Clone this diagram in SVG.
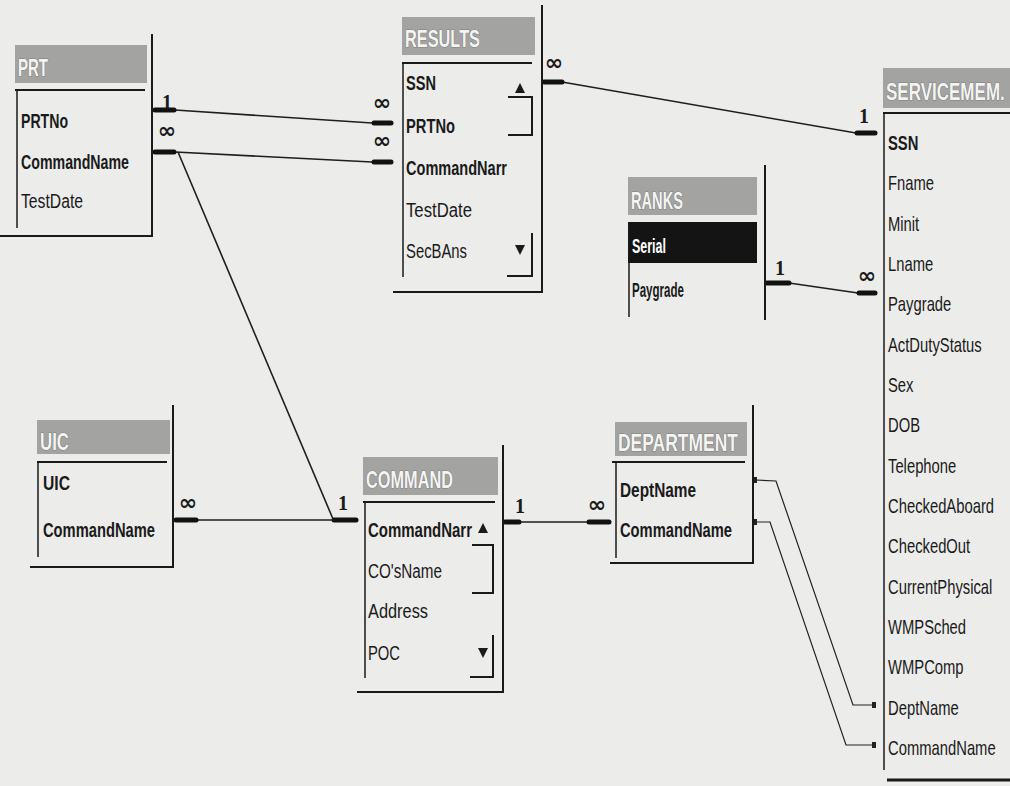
<svg xmlns="http://www.w3.org/2000/svg" width="1010" height="786" viewBox="0 0 1010 786">
<defs>
<style>
.bg{fill:#ececea}
.tb{fill:#a3a3a1}
.tt{font-family:"Liberation Sans","DejaVu Sans",sans-serif;font-weight:bold;font-size:23px;fill:#f4f4f2;stroke:#555;stroke-width:0.7;paint-order:stroke}
.ln{stroke:#1a1a1a;stroke-width:2;fill:none}
.lf{stroke:#1a1a1a;stroke-width:1.5;fill:none}
.f{font-family:"Liberation Sans","DejaVu Sans",sans-serif;font-size:20px;fill:#1a1a1a}
.b{font-weight:bold}
.w{fill:#ffffff}
.c{stroke:#1e1e1e;stroke-width:1.6;fill:none}
.st{stroke:#111;stroke-width:5;stroke-linecap:round}
.thin{stroke:#222;stroke-width:1.2;fill:none}
.one{font-family:"Liberation Serif",serif;font-weight:bold;font-size:20px;fill:#1a1a1a;text-anchor:middle}
.inf{font-family:"DejaVu Sans",sans-serif;font-weight:bold;font-size:22px;fill:#1a1a1a;text-anchor:middle}
.ar{fill:#1a1a1a}
</style>
</defs>
<rect class="bg" x="0" y="0" width="1010" height="786"/>

<g id="connectors">
  <polyline class="c" points="175,110 372,123"/>
  <line class="st" x1="155" y1="110" x2="174" y2="110"/>
  <line class="st" x1="374" y1="123" x2="391" y2="123"/>
  <polyline class="c" points="175,152 372,162"/>
  <line class="st" x1="155" y1="152" x2="174" y2="152"/>
  <line class="st" x1="374" y1="162" x2="391" y2="162"/>
  <polyline class="c" points="178,152 333,519"/>
  <line class="st" x1="334" y1="520" x2="356" y2="520"/>
  <polyline class="c" points="196,520 334,520"/>
  <line class="st" x1="176" y1="520" x2="196" y2="520"/>
  <polyline class="c" points="519,522 588,522"/>
  <line class="st" x1="505" y1="522" x2="519" y2="522"/>
  <line class="st" x1="589" y1="522" x2="609" y2="522"/>
  <polyline class="c" points="562,82 856,133"/>
  <line class="st" x1="544" y1="82" x2="562" y2="82"/>
  <line class="st" x1="857" y1="133" x2="875" y2="133"/>
  <polyline class="c" points="789,283 858,293"/>
  <line class="st" x1="767" y1="283" x2="789" y2="283"/>
  <line class="st" x1="859" y1="293" x2="875" y2="293"/>
  <polyline class="thin" points="755,480 776,481 853,705 875,705"/>
  <polyline class="thin" points="755,522 770,522 846,745 875,745"/>
  <rect x="754" y="477" width="3" height="6" fill="#222"/>
  <rect x="754" y="519" width="3" height="6" fill="#222"/>
  <rect x="872" y="702" width="4" height="6" fill="#222"/>
  <rect x="872" y="742" width="4" height="6" fill="#222"/>
  <text class="one" x="167" y="109">1</text>
  <text class="inf" x="167" y="138">∞</text>
  <text class="inf" x="382" y="110">∞</text>
  <text class="inf" x="382" y="148">∞</text>
  <text class="inf" x="554" y="70">∞</text>
  <text class="one" x="864" y="123">1</text>
  <text class="one" x="780" y="275">1</text>
  <text class="inf" x="867" y="283">∞</text>
  <text class="inf" x="188" y="510">∞</text>
  <text class="one" x="343" y="510">1</text>
  <text class="one" x="520" y="513">1</text>
  <text class="inf" x="597" y="512">∞</text>
</g>

<g id="PRT">
  <rect class="tb" x="15" y="45" width="132" height="38"/>
  <text class="tt" x="18" y="76" textLength="30" lengthAdjust="spacingAndGlyphs">PRT</text>
  <line class="ln" x1="15" y1="90" x2="145" y2="90"/>
  <line class="lf" x1="17" y1="90" x2="17" y2="228"/>
  <line class="ln" x1="152" y1="34" x2="152" y2="237"/>
  <line class="ln" x1="0" y1="236" x2="152" y2="236"/>
  <text class="f b" x="21" y="128" textLength="47" lengthAdjust="spacingAndGlyphs">PRTNo</text>
  <text class="f b" x="21" y="169" textLength="108" lengthAdjust="spacingAndGlyphs">CommandName</text>
  <text class="f" x="21" y="208" textLength="62" lengthAdjust="spacingAndGlyphs">TestDate</text>
</g>

<g id="RESULTS">
  <rect class="tb" x="402" y="17" width="133" height="38"/>
  <text class="tt" x="405" y="47" textLength="75" lengthAdjust="spacingAndGlyphs">RESULTS</text>
  <line class="ln" x1="402" y1="63" x2="532" y2="63"/>
  <line class="lf" x1="403" y1="63" x2="403" y2="277"/>
  <line class="ln" x1="542" y1="5" x2="542" y2="293"/>
  <line class="ln" x1="393" y1="292" x2="542" y2="292"/>
  <text class="f b" x="406" y="90" textLength="30" lengthAdjust="spacingAndGlyphs">SSN</text>
  <text class="f b" x="406" y="133" textLength="49" lengthAdjust="spacingAndGlyphs">PRTNo</text>
  <text class="f b" x="406" y="175" textLength="101" lengthAdjust="spacingAndGlyphs">CommandNarr</text>
  <text class="f" x="406" y="217" textLength="66" lengthAdjust="spacingAndGlyphs">TestDate</text>
  <text class="f" x="406" y="258" textLength="61" lengthAdjust="spacingAndGlyphs">SecBAns</text>
  <polygon class="ar" points="515,93 525,93 520,83"/>
  <polyline class="ln" points="508,97 532,97 532,135 508,135"/>
  <polygon class="ar" points="515,245 525,245 520,255"/>
  <polyline class="ln" points="532,233 532,276 507,276"/>
</g>

<g id="SERVICEMEM">
  <rect class="tb" x="883" y="68" width="127" height="40"/>
  <g transform="translate(886,0) scale(0.74,1)">
    <text class="tt" x="0" y="100">SERVICEMEM.</text>
  </g>
  <line class="ln" x1="883" y1="113" x2="1010" y2="113"/>
  <line class="lf" x1="884" y1="113" x2="884" y2="770"/>
  <line x1="887" y1="780" x2="1010" y2="780" stroke="#1a1a1a" stroke-width="3"/>
  <g transform="translate(888,0) scale(0.74,1)">
    <text class="f b" x="0" y="150">SSN</text>
    <text class="f" x="0" y="190">Fname</text>
    <text class="f" x="0" y="231">Minit</text>
    <text class="f" x="0" y="271">Lname</text>
    <text class="f" x="0" y="311">Paygrade</text>
    <text class="f" x="0" y="352">ActDutyStatus</text>
    <text class="f" x="0" y="392">Sex</text>
    <text class="f" x="0" y="432">DOB</text>
    <text class="f" x="0" y="473">Telephone</text>
    <text class="f" x="0" y="513">CheckedAboard</text>
    <text class="f" x="0" y="553">CheckedOut</text>
    <text class="f" x="0" y="594">CurrentPhysical</text>
    <text class="f" x="0" y="634">WMPSched</text>
    <text class="f" x="0" y="674">WMPComp</text>
    <text class="f" x="0" y="715">DeptName</text>
    <text class="f" x="0" y="755">CommandName</text>
  </g>
</g>

<g id="RANKS">
  <rect class="tb" x="628" y="177" width="129" height="38"/>
  <text class="tt" x="631" y="209" textLength="52" lengthAdjust="spacingAndGlyphs">RANKS</text>
  <rect x="628" y="222" width="129" height="41" fill="#141414"/>
  <line class="lf" x1="629" y1="222" x2="629" y2="317"/>
  <line class="ln" x1="765" y1="165" x2="765" y2="320"/>
  <text class="f b w" x="632" y="253" textLength="34" lengthAdjust="spacingAndGlyphs">Serial</text>
  <text class="f b" x="632" y="297" textLength="52" lengthAdjust="spacingAndGlyphs">Paygrade</text>
</g>

<g id="UIC">
  <rect class="tb" x="37" y="420" width="133" height="34"/>
  <text class="tt" x="40" y="450" textLength="29" lengthAdjust="spacingAndGlyphs">UIC</text>
  <line class="ln" x1="37" y1="462" x2="167" y2="462"/>
  <line class="lf" x1="38" y1="462" x2="38" y2="557"/>
  <line class="ln" x1="173" y1="405" x2="173" y2="568"/>
  <line class="ln" x1="30" y1="567" x2="173" y2="567"/>
  <text class="f b" x="43" y="490" textLength="27" lengthAdjust="spacingAndGlyphs">UIC</text>
  <text class="f b" x="43" y="537" textLength="112" lengthAdjust="spacingAndGlyphs">CommandName</text>
</g>

<g id="COMMAND">
  <rect class="tb" x="363" y="457" width="135" height="38"/>
  <text class="tt" x="366" y="488" textLength="87" lengthAdjust="spacingAndGlyphs">COMMAND</text>
  <line class="ln" x1="363" y1="502" x2="495" y2="502"/>
  <line class="lf" x1="365" y1="502" x2="365" y2="678"/>
  <line class="ln" x1="503" y1="445" x2="503" y2="693"/>
  <line class="ln" x1="357" y1="692" x2="503" y2="692"/>
  <text class="f b" x="368" y="537" textLength="104" lengthAdjust="spacingAndGlyphs">CommandNarr</text>
  <text class="f" x="368" y="578" textLength="74" lengthAdjust="spacingAndGlyphs">CO'sName</text>
  <text class="f" x="368" y="618" textLength="60" lengthAdjust="spacingAndGlyphs">Address</text>
  <text class="f" x="368" y="660" textLength="32" lengthAdjust="spacingAndGlyphs">POC</text>
  <polygon class="ar" points="478,533 488,533 483,523"/>
  <polyline class="ln" points="472,545 493,545 493,593 472,593"/>
  <polygon class="ar" points="478,648 488,648 483,658"/>
  <polyline class="ln" points="493,635 493,677 470,677"/>
</g>

<g id="DEPARTMENT">
  <rect class="tb" x="615" y="422" width="132" height="34"/>
  <text class="tt" x="618" y="451" textLength="120" lengthAdjust="spacingAndGlyphs">DEPARTMENT</text>
  <line class="ln" x1="612" y1="462" x2="745" y2="462"/>
  <line class="lf" x1="616" y1="462" x2="616" y2="558"/>
  <line class="ln" x1="753" y1="405" x2="753" y2="564"/>
  <line class="ln" x1="610" y1="563" x2="753" y2="563"/>
  <text class="f b" x="620" y="497" textLength="76" lengthAdjust="spacingAndGlyphs">DeptName</text>
  <text class="f b" x="620" y="537" textLength="112" lengthAdjust="spacingAndGlyphs">CommandName</text>
</g>
</svg>
